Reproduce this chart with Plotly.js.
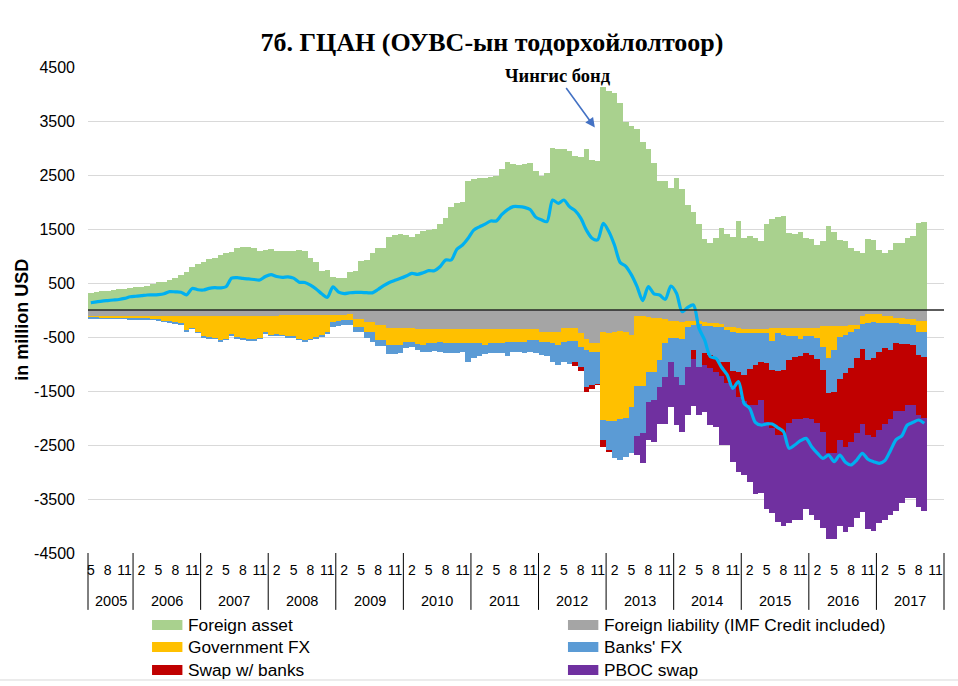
<!DOCTYPE html>
<html>
<head>
<meta charset="utf-8">
<script src="https://cdn.plot.ly/plotly-3.0.1.min.js"></script>
<style>
html,body{margin:0;padding:0;background:#fff;}
#chart{width:958px;height:686px;}
</style>
</head>
<body>
<div id="chart"></div>
<script>
// ---- categories: monthly, May 2005 .. Dec 2017 ----
const years = [2005,2006,2007,2008,2009,2010,2011,2012,2013,2014,2015,2016,2017];
const firstMonth = 5;           // first category is May 2005
const lastMonthOfAxis = 12;     // axis runs to Dec 2017
const shownMonths = [2,5,8,11]; // month tick labels shown

// ---- series (million USD), May 2005 .. Sep 2017 ----
const foreignAsset = [
 315,330,345,360,370,380,390,410,420,430,
 450,480,510,520,560,600,640,700,790,860,
 890,940,970,1010,1060,1080,1150,1160,1160,1150,
 1100,1120,1130,1100,1090,1090,1090,1110,1100,960,
 880,730,740,620,600,590,710,720,900,920,
 1060,1150,1150,1360,1380,1400,1380,1360,1400,1470,
 1480,1500,1600,1700,1900,1980,2000,2380,2430,2440,
 2440,2460,2480,2620,2750,2700,2690,2700,2720,2580,
 2490,2530,3000,2990,2980,2940,2850,2840,2980,2770,
 2760,4130,4060,4010,3830,3490,3400,3360,3120,2990,
 2720,2390,2380,2260,2440,2240,1940,1820,1590,1320,
 1250,1340,1510,1410,1360,1650,1340,1370,1330,1270,
 1590,1680,1720,1740,1420,1410,1450,1330,1320,1200,
 1270,1560,1440,1290,1270,1140,1100,1050,1310,1300,
 1120,1060,1120,1240,1250,1330,1370,1610,1630
];
const foreignLiability = [
 -110,-110,-110,-110,-110,-110,-110,-110,-110,-110,
 -110,-110,-110,-110,-110,-110,-110,-110,-110,-110,
 -110,-110,-110,-110,-110,-110,-110,-110,-110,-110,
 -110,-110,-110,-110,-90,-90,-90,-90,-90,-90,
 -90,-90,-90,-90,-90,-85,-75,-167,-167,-216,
 -216,-278,-278,-340,-340,-340,-340,-340,-358,-358,
 -358,-358,-358,-358,-358,-358,-358,-358,-358,-358,
 -358,-358,-358,-358,-358,-358,-358,-358,-358,-358,
 -414,-414,-414,-414,-340,-340,-340,-432,-543,-605,
 -605,-414,-432,-414,-389,-401,-463,-111,-120,-130,
 -140,-150,-160,-197,-200,-216,-200,-200,-200,-216,
 -235,-247,-265,-309,-320,-340,-350,-358,-358,-358,
 -358,-340,-340,-340,-340,-340,-340,-340,-340,-340,
 -296,-296,-296,-296,-296,-278,-278,-111,-80,-80,
 -80,-111,-111,-154,-154,-173,-173,-198,-198
];
const governmentFX = [
 -20,-25,-30,-30,-35,-35,-35,-40,-40,-40,
 -45,-50,-60,-85,-100,-115,-130,-260,-220,-290,
 -370,-390,-400,-450,-420,-340,-390,-410,-430,-430,
 -400,-300,-350,-340,-370,-390,-400,-440,-470,-440,
 -410,-380,-320,-130,-110,-105,-110,-142,-142,-185,
 -185,-278,-278,-308,-308,-308,-246,-246,-272,-290,
 -247,-247,-228,-247,-259,-259,-247,-247,-259,-259,
 -290,-259,-259,-247,-228,-228,-228,-228,-198,-198,
 -172,-172,-203,-234,-246,-228,-228,-247,-198,-167,
 -167,-1616,-1618,-1636,-1636,-1605,-1327,-1296,-1287,-1012,
 -1002,-776,-457,-328,-325,-327,-121,-78,-59,-80,
 -61,-62,-44,-61,-80,-80,-80,-72,-72,-74,
 -74,-228,-92,-123,-141,-141,-203,-141,-141,-185,
 -383,-599,-445,-198,-167,-123,-80,-148,-167,-136,
 -155,-136,-124,-81,-105,-86,-105,-203,-203
];
const banksFX = [
 -30,-30,-30,-30,-30,-30,-30,-30,-30,-30,
 -30,-30,-30,-30,-30,-30,-30,-30,-30,-30,
 -30,-30,-30,-30,-30,-30,-30,-30,-30,-30,
 -30,-30,-30,-30,-30,-30,-30,-30,-30,-30,
 -30,-30,-30,-90,-90,-90,-90,-92,-92,-124,
 -185,-111,-111,-167,-167,-155,-124,-106,-111,-124,
 -167,-148,-186,-185,-186,-173,-167,-352,-278,-235,
 -167,-173,-173,-198,-266,-186,-194,-204,-216,-234,
 -248,-266,-340,-371,-371,-432,-401,-383,-679,-617,
 -598,-377,-543,-697,-753,-710,-860,-926,-877,-556,
 -525,-494,-618,-432,-710,-846,-728,-463,-790,-494,
 -544,-605,-651,-590,-730,-730,-770,-670,-590,-525,
 -556,-543,-692,-648,-445,-383,-309,-322,-353,-389,
 -432,-636,-771,-790,-698,-679,-537,-469,-679,-679,
 -537,-463,-506,-382,-371,-371,-370,-433,-476
];
const swapWithBanks = [
 0,0,0,0,0,0,0,0,0,0,
 0,0,0,0,0,0,0,0,0,0,
 0,0,0,0,0,0,0,0,0,0,
 0,0,0,0,0,0,0,0,0,0,
 0,0,0,0,0,0,0,0,0,0,
 0,0,0,0,0,0,0,0,0,0,
 0,0,0,0,0,0,0,0,0,0,
 0,0,0,0,0,0,0,0,0,0,
 0,0,0,0,0,0,-68,-68,-92,-80,
 -25,-124,-43,0,0,0,0,0,0,0,
 0,0,0,0,0,0,0,-173,0,-229,
 -240,-236,-270,-390,-320,-470,-480,-660,-740,-710,
 -1080,-1081,-1191,-1204,-1173,-1161,-1173,-1203,-1191,-1172,
 -1142,-1123,-1142,-1123,-1370,-1358,-1389,-1383,-1389,-1463,
 -1450,-1401,-1284,-1247,-1234,-1129,-1111,-1110,-1129
];
const pbocSwap = [
 0,0,0,0,0,0,0,0,0,0,
 0,0,0,0,0,0,0,0,0,0,
 0,0,0,0,0,0,0,0,0,0,
 0,0,0,0,0,0,0,0,0,0,
 0,0,0,0,0,0,0,0,0,0,
 0,0,0,0,0,0,0,0,0,0,
 0,0,0,0,0,0,0,0,0,0,
 0,0,0,0,0,0,0,0,0,0,
 0,0,0,0,0,0,0,0,0,0,
 0,0,0,0,0,0,0,-352,-555,-709,
 -783,-691,-876,-843,-889,-864,-895,-864,-895,-864,
 -1044,-1010,-1270,-1150,-1359,-1374,-1375,-1419,-1648,-1713,
 -1623,-1573,-1605,-1685,-1851,-1864,-1864,-1685,-1775,-1794,
 -1790,-1593,-1593,-1593,-1574,-1574,-1574,-1624,-1747,-1732,
 -1716,-1778,-1775,-1852,-1716,-1729,-1729,-1698,-1710
];
const netReserves = [
 135,150,165,175,185,195,215,245,255,265,
 278,280,285,300,340,335,330,280,400,375,
 370,400,413,410,430,590,600,585,575,565,
 555,620,655,620,605,615,590,515,510,460,
 390,300,235,430,330,305,320,327,325,320,
 318,380,450,510,550,586,630,679,660,690,
 728,728,800,926,926,1124,1204,1330,1480,1540,
 1590,1648,1648,1770,1860,1914,1914,1900,1860,1720,
 1670,1636,2037,1975,2037,1914,1840,1700,1480,1330,
 1300,1605,1450,1200,880,810,650,432,173,432,
 300,278,198,444,309,-31,50,93,-340,-556,
 -864,-895,-1060,-1200,-1450,-1327,-1728,-1821,-2080,-2130,
 -2111,-2111,-2180,-2253,-2562,-2500,-2420,-2377,-2531,-2650,
 -2747,-2685,-2809,-2685,-2820,-2870,-2778,-2654,-2765,-2810,
 -2839,-2790,-2600,-2400,-2330,-2130,-2080,-2037,-2099
];
const yTicks = [4500,3500,2500,1500,500,-500,-1500,-2500,-3500,-4500];

const seriesNames = ['Foreign asset','Foreign liability (IMF Credit included)','Government FX',"Banks' FX",'Swap w/ banks','PBOC swap'];
const seriesColors = ['#A9D18E','#A5A5A5','#FFC000','#5B9BD5','#C00000','#7030A0'];
const seriesData = [foreignAsset, foreignLiability, governmentFX, banksFX, swapWithBanks, pbocSwap];

// ---- build category index ----
const catMonth = [], catYear = [];
for (let y = years[0], m = firstMonth; y < years[years.length-1] || (y === years[years.length-1] && m <= lastMonthOfAxis); ) {
  catMonth.push(m); catYear.push(y);
  m++; if (m > 12) { m = 1; y++; }
}
const nCat = catMonth.length;
const xIdx = foreignAsset.map((_, i) => i);

const tickvals = [], ticktext = [];
catMonth.forEach((m, i) => { if (shownMonths.includes(m)) { tickvals.push(i); ticktext.push(String(m)); } });

const toPaperX = v => (v + 0.5) / nCat;

const FONT = 'Liberation Sans, Arial, sans-serif';
const SERIF = 'Liberation Serif, Times New Roman, serif';

const traces = seriesData.map((d, k) => ({
  type: 'bar', x: xIdx, y: d, name: seriesNames[k],
  marker: {color: seriesColors[k], line: {width: 0}},
  showlegend: false, hoverinfo: 'x+y+name'
}));
traces.push({
  type: 'scatter', mode: 'lines', x: xIdx, y: netReserves, name: 'Net',
  line: {color: '#00B0F0', width: 3.2, shape: 'spline', smoothing: 0.8},
  showlegend: false
});

const shapes = [];
const annotations = [];

// year dividers and year labels
const bounds = [-0.5];
catMonth.forEach((m, i) => { if (m === 1) bounds.push(i - 0.5); });
bounds.push(nCat - 0.5);
bounds.forEach(b => shapes.push({
  type: 'line', xref: 'paper', yref: 'paper',
  x0: toPaperX(b), x1: toPaperX(b), y0: 0, y1: -0.117,
  line: {color: '#000', width: 1}
}));
years.forEach((yr, k) => {
  annotations.push({
    xref: 'paper', yref: 'paper', x: toPaperX((bounds[k] + bounds[k+1]) / 2), y: -0.099,
    text: String(yr), showarrow: false, xanchor: 'center', yanchor: 'middle',
    font: {family: FONT, size: 14.5, color: '#000'}
  });
});

// zero line on top
shapes.push({type: 'line', xref: 'paper', yref: 'paper', x0: 0, x1: 1, y0: 0.5, y1: 0.5,
  line: {color: '#262626', width: 1.5}, layer: 'above'});

// chart frame bottom edge
shapes.push({type: 'line', xref: 'paper', yref: 'paper', x0: -88/856, x1: 870/856, y0: -0.2613, y1: -0.2613,
  line: {color: '#D9D9D9', width: 1}});

// manual legend (two columns)
const legendCols = [0.0748, 0.5607];
const legendRows = [[-0.1584, -0.1379], [-0.2037, -0.1831], [-0.2510, -0.2305]];
seriesNames.forEach((nm, k) => {
  const c = k % 2, r = Math.floor(k / 2);
  shapes.push({type: 'rect', xref: 'paper', yref: 'paper',
    x0: legendCols[c], x1: legendCols[c] + 0.0355, y0: legendRows[r][0], y1: legendRows[r][1],
    fillcolor: seriesColors[k], line: {width: 0}});
  annotations.push({xref: 'paper', yref: 'paper', x: legendCols[c] + 0.0395,
    y: (legendRows[r][0] + legendRows[r][1]) / 2, text: nm, showarrow: false,
    xanchor: 'left', yanchor: 'middle', font: {family: FONT, size: 17.3, color: '#000'}});
});

// y axis title
annotations.push({xref: 'paper', yref: 'paper', x: -0.077, y: 0.48, text: '<b>in million USD</b>',
  textangle: -90, showarrow: false, xanchor: 'center', yanchor: 'middle',
  font: {family: FONT, size: 18, color: '#000'}});

// Chinggis bond annotation
annotations.push({xref: 'x', yref: 'y', x: 89.5, y: 3380, text: '<b>Чингис бонд</b>',
  showarrow: true, ax: -37, ay: -51, arrowhead: 2, arrowsize: 1.2, arrowwidth: 1.6,
  arrowcolor: '#4472C4', font: {family: SERIF, size: 18.5, color: '#000'}});

const layout = {
  width: 958, height: 686, autosize: false,
  margin: {l: 88, r: 14, t: 67, b: 133},
  paper_bgcolor: '#fff', plot_bgcolor: '#fff',
  barmode: 'relative', bargap: 0,
  title: {text: '7б. ГЦАН (ОУВС-ын тодорхойлолтоор)', x: 492/958, xref: 'container', xanchor: 'center',
    y: 1 - 42/686, yref: 'container', yanchor: 'middle',
    font: {family: SERIF, size: 26, weight: 'bold', color: '#000'}},
  xaxis: {range: [-0.5, nCat - 0.5], tickmode: 'array', tickvals: tickvals, ticktext: ticktext,
    ticks: '', showgrid: false, zeroline: false, showline: false, ticklabelstandoff: 7,
    tickfont: {family: FONT, size: 14, color: '#000'}, fixedrange: true},
  yaxis: {range: [-4500, 4500], tickmode: 'array', tickvals: yTicks, ticktext: yTicks.map(String),
    ticks: '', showgrid: true, gridcolor: '#D9D9D9', gridwidth: 1, zeroline: false, showline: false,
    ticklabelstandoff: 12, tickfont: {family: FONT, size: 16, color: '#000'}, fixedrange: true},
  shapes: shapes, annotations: annotations, showlegend: false
};

Plotly.newPlot('chart', traces, layout, {displayModeBar: false, staticPlot: true});
</script>
</body>
</html>
